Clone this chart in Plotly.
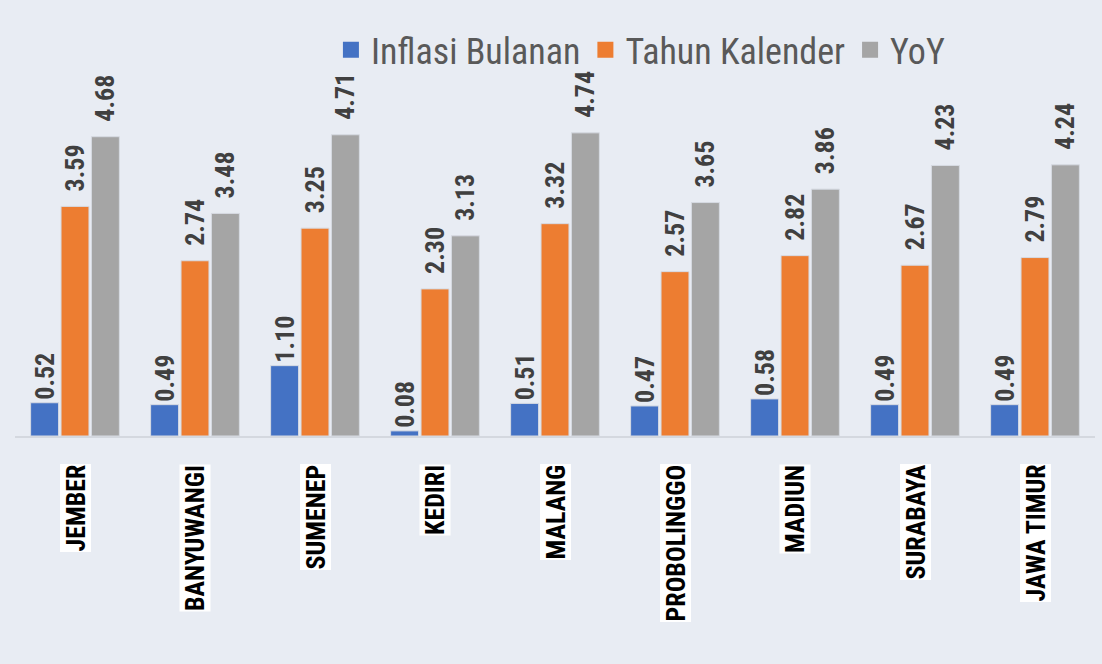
import plotly.graph_objects as go

categories = ["JEMBER", "BANYUWANGI", "SUMENEP", "KEDIRI", "MALANG",
              "PROBOLINGGO", "MADIUN", "SURABAYA", "JAWA TIMUR"]
inflasi_bulanan = [0.52, 0.49, 1.10, 0.08, 0.51, 0.47, 0.58, 0.49, 0.49]
tahun_kalender = [3.59, 2.74, 3.25, 2.30, 3.32, 2.57, 2.82, 2.67, 2.79]
yoy = [4.68, 3.48, 4.71, 3.13, 4.74, 3.65, 3.86, 4.23, 4.24]

series = [
    ("Inflasi Bulanan", inflasi_bulanan, "#4472C4", "%{text}"),
    ("Tahun Kalender", tahun_kalender, "#ED7D31", "\u00a0\u00a0%{text}"),
    ("YoY", yoy, "#A5A5A5", "\u00a0\u00a0%{text}"),
]

NARROW = "Roboto Condensed, Liberation Sans Narrow, DejaVu Sans Condensed, sans-serif"
BG = "#E8ECF3"

fig = go.Figure()
for name, vals, color, tmpl in series:
    fig.add_trace(go.Bar(
        x=categories, y=vals, name=name, showlegend=False,
        marker=dict(color=color, line=dict(color="#D6DAE2", width=1)),
        text=[f"{v:.2f}" for v in vals],
        texttemplate=tmpl,
        textposition="outside", textangle=-90,
        constraintext="none", cliponaxis=False,
        textfont=dict(family=NARROW, size=26, color="#404040", weight="bold"),
    ))
# legend entries with larger square swatches
for name, vals, color, tmpl in series:
    fig.add_trace(go.Scatter(
        x=[None], y=[None], name=name, mode="markers",
        marker=dict(symbol="square", size=17, color=color),
    ))

for c in categories:
    fig.add_annotation(
        x=c, xref="x", y=0, yref="paper", yanchor="top", yshift=-28,
        text=c, textangle=-90, showarrow=False,
        bgcolor="white", borderpad=0,
        font=dict(family=NARROW, size=26, color="black", weight="bold"),
    )

fig.update_layout(
    width=1102, height=664,
    paper_bgcolor=BG, plot_bgcolor=BG,
    margin=dict(l=15, r=7, t=80, b=228),
    barmode="group", bargap=0.24, bargroupgap=0.08,
    showlegend=True,
    legend=dict(orientation="h", xref="container", yref="container",
                x=0.862, xanchor="right", y=0.925, yanchor="middle",
                font=dict(family=NARROW, size=36, color="#595959"),
                bgcolor="rgba(0,0,0,0)", itemwidth=30),
    xaxis=dict(showticklabels=False, showline=True, linecolor="#D4D8DF",
               linewidth=2, ticks="", showgrid=False, zeroline=False),
    yaxis=dict(range=[0, 5.46], visible=False, showgrid=False, zeroline=False),
)

fig.write_html("out.html", config={"displayModeBar": False},
               post_script="document.body.style.margin='0';")
